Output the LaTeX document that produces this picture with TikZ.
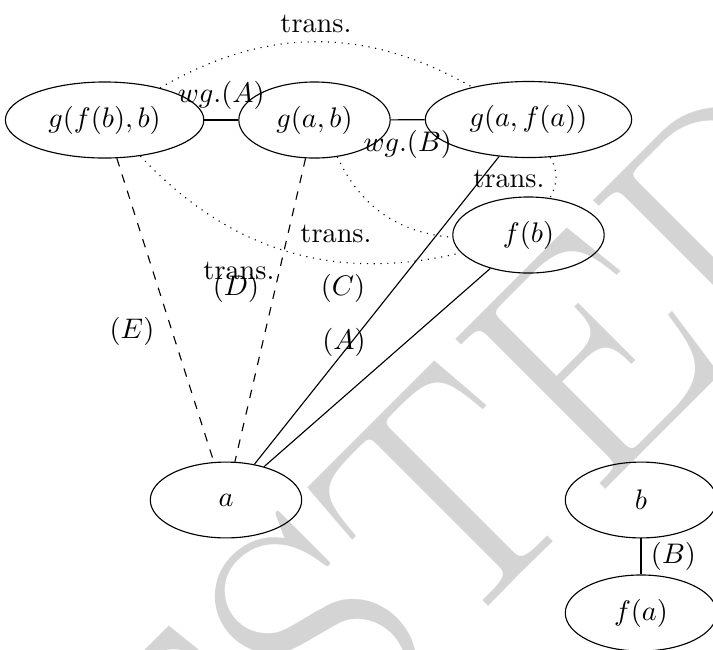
\documentclass[tikz,border=0pt]{standalone}
\usepackage{fontspec}
\usetikzlibrary{shapes.geometric}
\begin{document}
\begin{tikzpicture}[x=0.35336pt,y=0.35336pt,
  en/.style={draw, ellipse, inner xsep=4.95pt, inner ysep=4.5pt, minimum width=53.5pt, minimum height=26.8pt},
  lab/.style={anchor=base, inner sep=0pt},
  wm/.style={text=black!17, rotate=45, inner sep=0pt, font=\fontsize{110pt}{110pt}\selectfont},
  dotline/.style={dotted},
  dashline/.style={dashed}]
\useasboundingbox (0,0) rectangle (713,-649);
\begin{scope}
\clip (0,0) rectangle (713,-649);
\node[wm] (wmark) at (394,-551) {TESTED};
\end{scope}
\node[en] (gfb) at (104.6,-120) {$g(f(b),b)$};
\node[en] (gab) at (314.5,-120) {$g(a,b)$};
\node[en] (gafa) at (528.5,-119.5) {$g(a,f(a))$};
\node[en] (fb) at (528.5,-235) {$f(b)$};
\node[en] (a) at (226,-500) {$a$};
\node[en] (b) at (641,-500) {$b$};
\node[en] (fa) at (641,-613) {$f(a)$};
\draw (gfb) -- node[above] {$wg.(A)$} (gab);
\draw (gab) -- node[below] {$wg.(B)$} (gafa);
\draw[dotline] (gfb) to[bend left=30] (gafa);
\draw[dotline] (gfb) to[bend right=30] (fb);
\draw[dotline] (gab) to[bend right=30] (fb);
\draw[dotline] (gafa) to[bend left=30] (fb);
\draw[dashline] (gfb) -- (a);
\draw[dashline] (gab) -- (a);
\draw (gafa) -- (a);
\draw (fb) -- (a);
\draw (b) -- node[right] {$(B)$} (fa);
\node[lab] (t1) at (316,-32.5) {trans.};
\node[lab] (t2) at (336,-242.7) {trans.};
\node[lab] (t3) at (239,-279) {trans.};
\node[lab] (t4) at (509,-187) {trans.};
\node[lab] (lD) at (236,-295) {$(D)$};
\node[lab] (lC) at (343,-295) {$(C)$};
\node[lab] (lE) at (132,-338) {$(E)$};
\node[lab] (lA) at (344,-349) {$(A)$};
\end{tikzpicture}
\end{document}
